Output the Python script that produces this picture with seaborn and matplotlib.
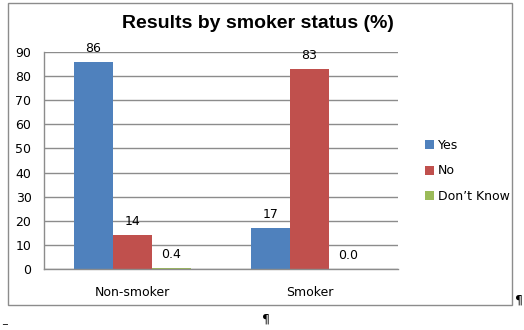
import matplotlib
matplotlib.use("Agg")
import matplotlib.pyplot as plt
import seaborn as sns
import pandas as pd
from matplotlib.patches import Rectangle, Patch

categories = ["Non-smoker", "Smoker"]
series = ["Yes", "No", "Don\u2019t Know"]
yes_values = [86, 17]
no_values = [14, 83]
dk_values = [0.4, 0.0]
colors = ["#4F81BD", "#C0504D", "#9BBB59"]
yticks = list(range(0, 91, 10))

rows = []
for s, vals in zip(series, [yes_values, no_values, dk_values]):
    for c, v in zip(categories, vals):
        rows.append({"Status": c, "Response": s, "Value": v})
df = pd.DataFrame(rows)

sns.set_style("white")
plt.rcParams['font.family'] = ['DejaVu Sans']
plt.rcParams['text.color'] = 'black'
plt.rcParams['xtick.color'] = 'black'
plt.rcParams['ytick.color'] = 'black'

W, H = 524, 330
fig = plt.figure(figsize=(W / 100, H / 100), dpi=100)
ax = fig.add_axes([44 / W, 1 - 269 / H, (398 - 44) / W, (269 - 52) / H])

sns.barplot(data=df, x="Status", y="Value", hue="Response", order=categories,
            hue_order=series, palette=colors, width=0.66, saturation=1,
            ax=ax, legend=False, edgecolor="none")

ax.set_ylim(0, 90)
ax.set_xlim(-0.5, 1.5)
ax.set_yticks(yticks)
ax.yaxis.grid(True, color="#8c8c8c", linewidth=1)
ax.set_axisbelow(True)
for side in ["top", "right"]:
    ax.spines[side].set_visible(False)
for side in ["left", "bottom"]:
    ax.spines[side].set_color("#8c8c8c")
    ax.spines[side].set_linewidth(1)
ax.tick_params(axis="both", length=0, labelsize=9, labelcolor="black", pad=9)
ax.tick_params(axis="x", pad=12)
ax.set_xlabel("")
ax.set_ylabel("")

for cont in ax.containers:
    labels = [f"{b.get_height():.1f}" if b.get_height() < 1 else f"{b.get_height():.0f}" for b in cont]
    ax.bar_label(cont, labels=labels, padding=5, fontsize=9, color="black")

fig.text(258 / W, 1 - 24 / H, "Results by smoker status (%)", ha="center", va="center",
         fontsize=14, fontweight="bold", color="black",
         family=["Liberation Sans", "DejaVu Sans"])

handles = [Patch(facecolor=c, edgecolor="none") for c in colors]
leg = fig.legend(handles, series, loc="center left", bbox_to_anchor=(414 / W, 1 - 171 / H),
                 frameon=False, fontsize=9, handlelength=0.7, handleheight=0.7,
                 handletextpad=0.3, labelspacing=1.0)
for t in leg.get_texts():
    t.set_color("black")

fig.patches.append(Rectangle((8 / W, 1 - 305 / H), (512 - 8) / W, (305 - 3) / H,
                             transform=fig.transFigure, fill=False,
                             edgecolor="#8c8c8c", linewidth=1))

fig.text(519 / W, 1 - 300 / H, "\u00b6", ha="center", va="center", fontsize=9, color="black")
fig.text(266 / W, 1 - 319 / H, "\u00b6", ha="center", va="center", fontsize=9, color="black")
fig.text(5 / W, 1 - 325 / H, "_", ha="center", va="bottom", fontsize=7, color="black")

fig.savefig("out.png", dpi=100)
